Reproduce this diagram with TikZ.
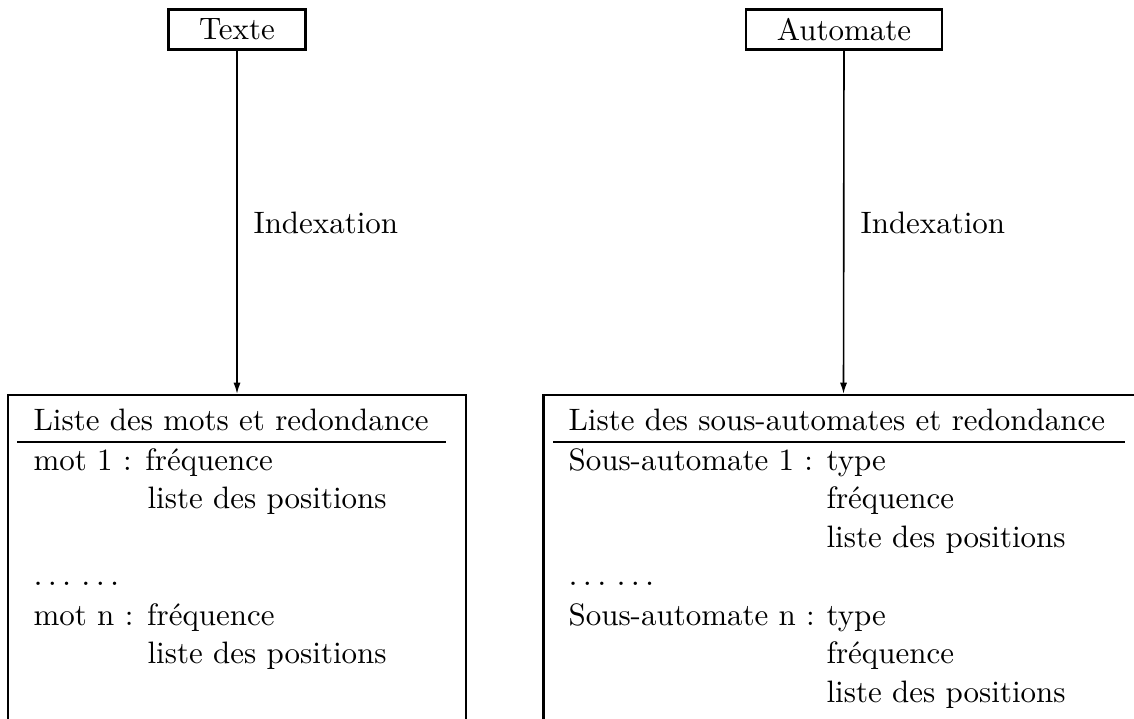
\documentclass[tikz,border=0pt]{standalone}
\usetikzlibrary{arrows.meta}
\begin{document}
\begin{tikzpicture}[x=0.339pt,y=-0.339pt,
  titlebox/.style={draw,line width=0.75pt,minimum height=13.6pt,inner sep=0pt,font=\fontsize{10.5pt}{12.6pt}\selectfont},
  listbox/.style={draw,line width=0.75pt,inner sep=0pt},
  txt/.style={anchor=base west,inner sep=0pt,font=\fontsize{10.5pt}{12.6pt}\selectfont},
  lbl/.style={anchor=base west,inner sep=0pt,font=\fontsize{10.5pt}{12.6pt}\selectfont},
  flow/.style={line width=0.55pt,-{Latex[length=3.8pt,width=2.4pt]}},
  rule/.style={line width=0.4pt}]
\clip (0,0) rectangle (1134,719);
\useasboundingbox (0,0) rectangle (1134,719);
% title boxes
\node[titlebox,minimum width=46.4pt] (texte) at (237,29.5) {Texte};
\node[titlebox,minimum width=66.4pt] (automate) at (844,29.5) {Automate};
% list boxes (cut off by the page)
\node[listbox,minimum width=155.3pt,minimum height=123.7pt] (lbox) at (237,577.5) {};
\node[listbox,minimum width=203.4pt,minimum height=123.7pt] (rbox) at (843.5,577.5) {};
% connectors
\draw[flow] (texte) -- (lbox.north);
\draw[flow] (automate) -- (rbox.north);
\node[lbl] (idx1) at (253,234) {Indexation};
\node[lbl] (idx2) at (860,234) {Indexation};
% left box content
\coordinate (lr1) at (17,442);
\coordinate (lr2) at (446,442);
\draw[rule] (lr1) -- (lr2);
\node[txt] (lh) at (33,431) {Liste des mots et redondance};
\node[txt] (l1) at (33,470) {mot 1 : fréquence};
\node[txt] (l2) at (147,508) {liste des positions};
\node[txt] (l3) at (33,585) {$\ldots$\ $\ldots$};
\node[txt] (l4) at (33,625) {mot n : fréquence};
\node[txt] (l5) at (147,663) {liste des positions};
% right box content
\coordinate (rr1) at (553,442);
\coordinate (rr2) at (1125,442);
\draw[rule] (rr1) -- (rr2);
\node[txt] (rh) at (568,431) {Liste des sous-automates et redondance};
\node[txt] (r1) at (568,470) {Sous-automate 1 :};
\node[txt] (r1a) at (826,470) {type};
\node[txt] (r1b) at (826,508) {fréquence};
\node[txt] (r1c) at (826,547) {liste des positions};
\node[txt] (r2) at (568,585) {$\ldots$\ $\ldots$};
\node[txt] (r3) at (568,625) {Sous-automate n :};
\node[txt] (r3a) at (826,625) {type};
\node[txt] (r3b) at (826,663) {fréquence};
\node[txt] (r3c) at (826,702) {liste des positions};
\end{tikzpicture}
\end{document}
